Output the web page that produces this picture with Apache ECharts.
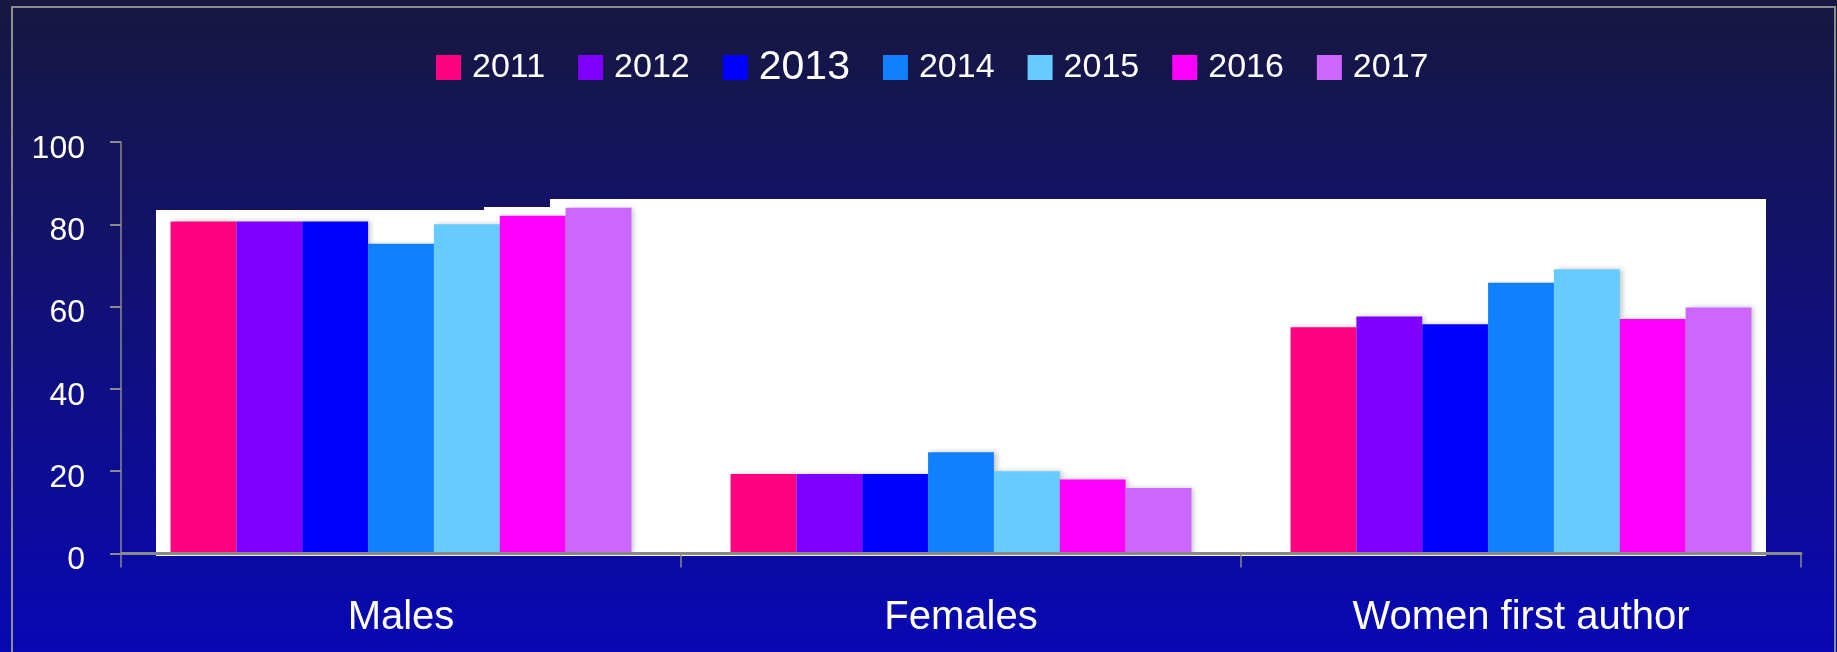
<!DOCTYPE html>
<html>
<head>
<meta charset="utf-8">
<script src="https://cdn.jsdelivr.net/npm/echarts@6/dist/echarts.min.js"></script>
<style>
html,body{margin:0;padding:0;background:#161640;}
#chart{width:1837px;height:652px;}
</style>
</head>
<body>
<div id="chart"></div>
<script>
var categories = ['Males', 'Females', 'Women first author'];
var years = ['2011', '2012', '2013', '2014', '2015', '2016', '2017'];
var v2011 = [80.7, 19.3, 55.0];
var v2012 = [80.7, 19.3, 57.6];
var v2013 = [80.7, 19.3, 55.7];
var v2014 = [75.3, 24.6, 65.8];
var v2015 = [80.0, 20.0, 69.1];
var v2016 = [82.1, 18.0, 57.0];
var v2017 = [84.0, 15.9, 59.8];
var yTicks = [0, 20, 40, 60, 80, 100];

var values = [v2011, v2012, v2013, v2014, v2015, v2016, v2017];
var colors = ['#FF0080', '#8000FF', '#0000FF', '#1080FF', '#66CCFF', '#FF00FF', '#CC66FF'];
var FONT = '"Liberation Sans", Arial, sans-serif';

var chart = echarts.init(document.getElementById('chart'));

var series = years.map(function (y, i) {
  return {
    name: y,
    type: 'bar',
    data: values[i],
    barGap: '0%',
    barCategoryGap: '17.7%',
    itemStyle: {
      color: colors[i],
      shadowColor: 'rgba(0,0,0,0.22)',
      shadowBlur: 5,
      shadowOffsetX: 3,
      shadowOffsetY: 0
    },
    z: 3
  };
});

var legendData = years.map(function (y) {
  if (y === '2013') {
    return { name: y, textStyle: { fontSize: 41, lineHeight: 36, padding: [9, 0, 0, 6] } };
  }
  return { name: y };
});

var option = {
  backgroundColor: {
    type: 'linear', x: 0, y: 0, x2: 0, y2: 1,
    colorStops: [
      { offset: 0, color: '#171740' },
      { offset: 0.5, color: '#10107a' },
      { offset: 1, color: '#0808b4' }
    ]
  },
  animation: false,
  textStyle: { fontFamily: FONT },
  graphic: [
    { type: 'rect', z: -10, silent: true, shape: { x: 12, y: 7, width: 1823, height: 700 },
      style: { fill: null, stroke: '#8c8c8c', lineWidth: 2 } },
    { type: 'rect', z: -5, silent: true, shape: { x: 156, y: 210, width: 330, height: 346 },
      style: { fill: '#ffffff' } },
    { type: 'rect', z: -5, silent: true, shape: { x: 484, y: 207, width: 68, height: 349 },
      style: { fill: '#ffffff' } },
    { type: 'rect', z: -5, silent: true, shape: { x: 550, y: 199, width: 1216, height: 357 },
      style: { fill: '#ffffff' } }
  ],
  legend: {
    data: legendData,
    left: 436,
    top: 45,
    padding: 0,
    icon: 'rect',
    itemWidth: 25,
    itemHeight: 25,
    itemGap: 33,
    textStyle: {
      color: '#ffffff',
      fontSize: 34,
      lineHeight: 36,
      fontFamily: FONT,
      padding: [9, 0, 0, 6]
    }
  },
  grid: {
    left: 121,
    right: 36,
    top: 142,
    bottom: 98.5,
    containLabel: false
  },
  xAxis: {
    type: 'category',
    data: categories,
    axisLine: { show: true, lineStyle: { color: '#8a8a8a', width: 3 } },
    axisTick: { show: true, length: 14, lineStyle: { color: '#8a8a8a', width: 1.5 } },
    axisLabel: { color: '#ffffff', fontSize: 40, margin: 44, fontFamily: FONT },
    splitLine: { show: false },
    z: 5
  },
  yAxis: {
    type: 'value',
    min: yTicks[0],
    max: yTicks[yTicks.length - 1],
    interval: yTicks[1] - yTicks[0],
    axisLine: { show: true, lineStyle: { color: '#8a8a8a', width: 1.5 } },
    axisTick: { show: true, length: 11, lineStyle: { color: '#8a8a8a', width: 2 } },
    axisLabel: { color: '#ffffff', fontSize: 32, margin: 36, fontFamily: FONT, verticalAlign: 'top', lineHeight: 14 },
    splitLine: { show: false }
  },
  series: series
};

chart.setOption(option);
</script>
</body>
</html>
